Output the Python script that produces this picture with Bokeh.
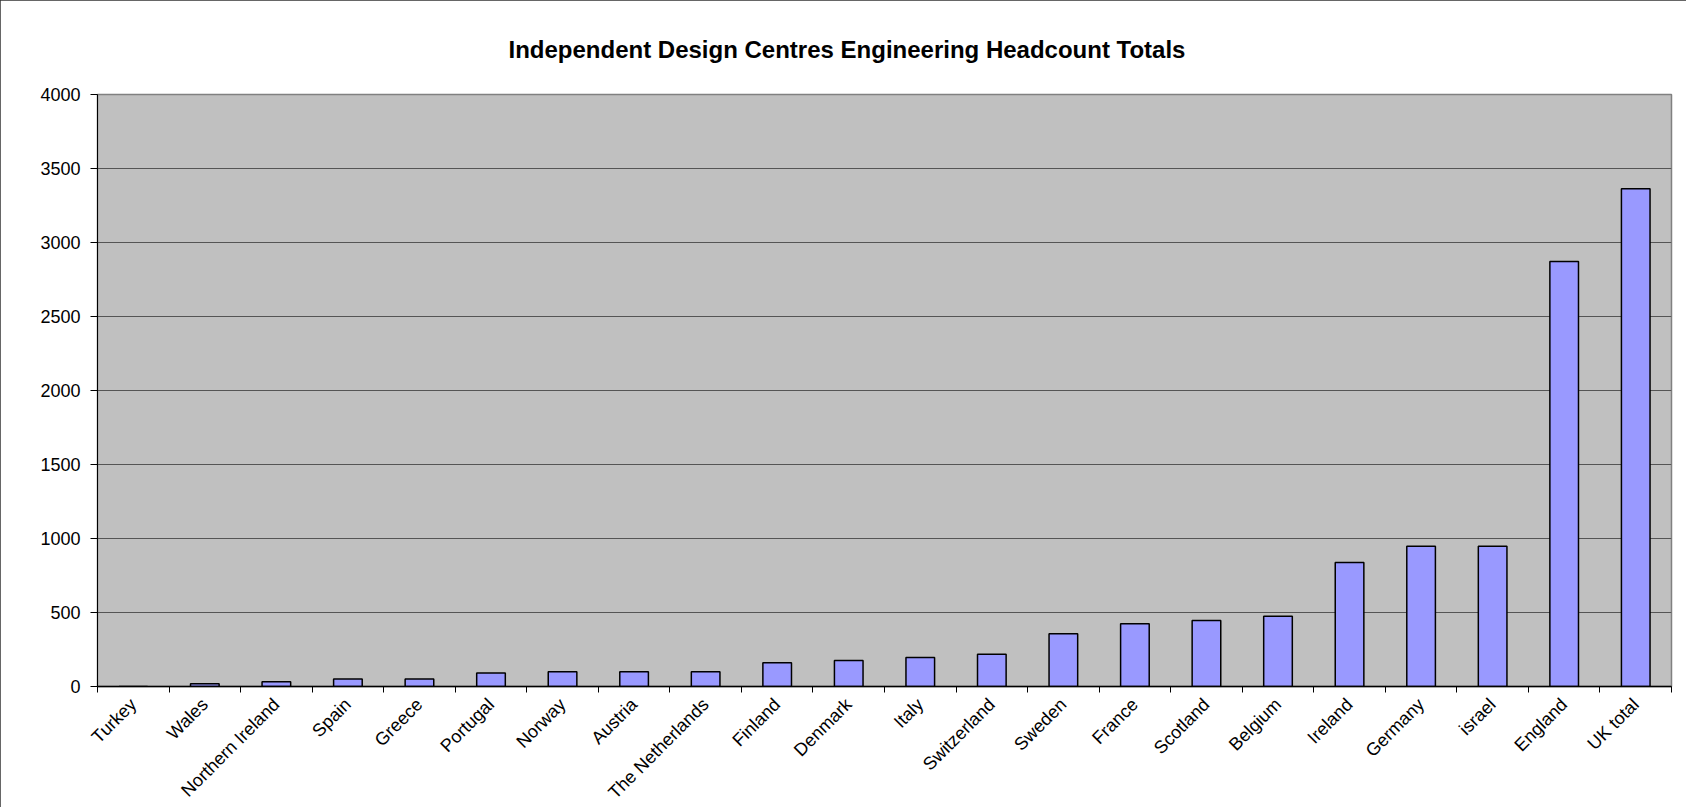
import math
import numpy as np
from bokeh.plotting import figure
from bokeh.models import (Range1d, LinearAxis, FixedTicker, ColumnDataSource,
                          CustomJSTickFormatter)
from bokeh.embed import file_html
from bokeh.resources import INLINE

# ---- data ----
categories = ["Turkey", "Wales", "Northern Ireland", "Spain", "Greece", "Portugal",
              "Norway", "Austria", "The Netherlands", "Finland", "Denmark", "Italy",
              "Switzerland", "Sweden", "France", "Scotland", "Belgium", "Ireland",
              "Germany", "israel", "England", "UK total"]
headcount = [0, 18, 32, 50, 50, 92, 100, 100, 100, 160, 176, 196,
             218, 356, 424, 446, 475, 838, 948, 948, 2872, 3364]
y_ticks = [0, 500, 1000, 1500, 2000, 2500, 3000, 3500, 4000]
title_text = "Independent Design Centres Engineering Headcount Totals"

FONT = "Liberation Sans"

n = len(categories)
slot_centres = (np.arange(n) + 0.5).tolist()
slot_edges = list(range(n + 1))

src = ColumnDataSource(data=dict(x=slot_centres, category=categories, headcount=headcount))

p = figure(x_range=Range1d(0, n),
           y_range=Range1d(y_ticks[0], y_ticks[-1]),
           frame_width=1574, frame_height=592,
           output_backend="svg", toolbar_location=None,
           x_axis_location=None,
           min_border_left=97, min_border_right=15,
           min_border_top=94, min_border_bottom=121)

p.styles = {"outline": "2px solid #333333", "outline-offset": "-2px"}

p.background_fill_color = "#C0C0C0"
p.border_fill_color = "white"
p.outline_line_color = "#808080"
p.outline_line_width = 1.5

# title
p.title.text = title_text
p.title.text_font = FONT
p.title.text_font_size = "24px"
p.title.text_font_style = "bold"
p.title.text_color = "black"
p.title.align = "left"
p.title.offset = 411
p.title.standoff = 64

# bars
p.vbar(x="x", top="headcount", width=0.4, source=src,
       fill_color="#9999FF", line_color="black", line_width=1.5)

# y axis
yax = p.yaxis[0]
yax.ticker = FixedTicker(ticks=y_ticks)
yax.major_label_text_font = FONT
yax.major_label_text_font_size = "18px"
yax.major_label_text_color = "black"
yax.axis_line_color = "black"
yax.axis_line_width = 1
yax.major_tick_line_color = "black"
yax.major_tick_out = 7
yax.major_tick_in = 0
yax.minor_tick_line_color = None
yax.major_label_standoff = 10

for g in p.xgrid:
    g.visible = False
p.ygrid.ticker = FixedTicker(ticks=y_ticks)
p.ygrid.grid_line_color = "#555555"
p.ygrid.grid_line_width = 1

# x axis: names at slot centres, tick marks on category boundaries
cat_axis = LinearAxis(ticker=FixedTicker(ticks=slot_centres, minor_ticks=slot_edges),
                      formatter=CustomJSTickFormatter(args=dict(names=categories),
                                                      code="return names[Math.floor(tick)];"),
                      major_tick_line_color=None,
                      minor_tick_line_color="black",
                      minor_tick_out=6, minor_tick_in=0,
                      axis_line_color="black", axis_line_width=1.5,
                      major_label_orientation=math.pi / 4,
                      major_label_text_font=FONT,
                      major_label_text_font_size="18px",
                      major_label_text_color="black",
                      major_label_standoff=9)
p.add_layout(cat_axis, "below")

open("out.html", "w").write(file_html(p, INLINE))
